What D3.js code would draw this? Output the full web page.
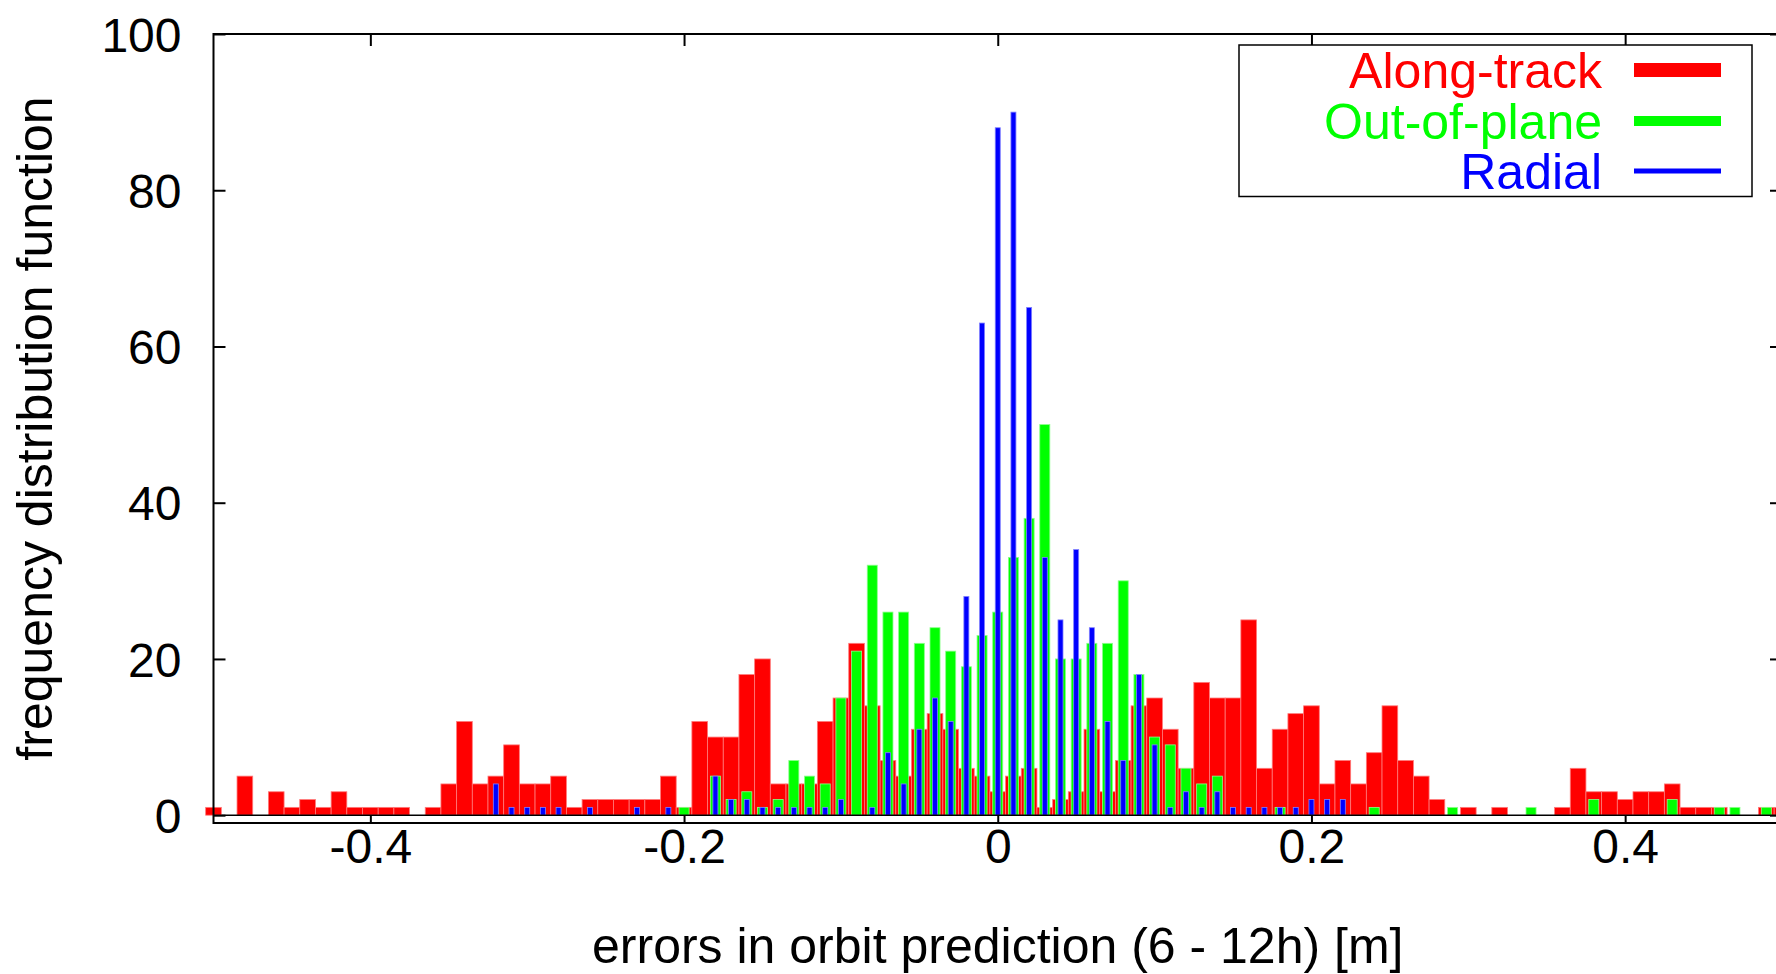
<!DOCTYPE html>
<html><head><meta charset="utf-8">
<script src="https://cdn.jsdelivr.net/npm/d3@7"></script>
<style>html,body{margin:0;padding:0;background:#fff;overflow:hidden}</style>
</head><body><svg id="chart" width="1776" height="974"></svg>
<script>
// ---------- data (bin centres in m, counts) ----------
const alongX = [-0.50,-0.48,-0.46,-0.45,-0.44,-0.43,-0.42,-0.41,-0.40,-0.39,-0.38,-0.36,-0.35,-0.34,-0.33,-0.32,-0.31,-0.30,-0.29,-0.28,-0.27,-0.26,-0.25,-0.24,-0.23,-0.22,-0.21,-0.20,-0.19,-0.18,-0.17,-0.16,-0.15,-0.14,-0.13,-0.12,-0.11,-0.10,-0.09,-0.08,-0.07,-0.06,-0.05,-0.04,-0.03,-0.02,-0.01,0.00,0.01,0.02,0.03,0.04,0.05,0.06,0.07,0.08,0.09,0.10,0.11,0.12,0.13,0.14,0.15,0.16,0.17,0.18,0.19,0.20,0.21,0.22,0.23,0.24,0.25,0.26,0.27,0.28,0.30,0.32,0.36,0.37,0.38,0.39,0.40,0.41,0.42,0.43,0.44,0.45,0.46,0.49,0.50];
const alongN = [1,5,3,1,2,1,3,1,1,1,1,1,4,12,4,5,9,4,4,5,1,2,2,2,2,2,5,1,12,10,10,18,20,4,4,4,12,15,22,14,7,5,11,13,11,6,5,3,5,6,1,2,3,11,3,7,14,15,11,6,17,15,15,25,6,11,13,14,4,7,4,8,14,7,5,2,1,1,1,6,3,3,2,3,3,4,1,1,1,1,1];

const outX = [-0.20,-0.18,-0.17,-0.16,-0.15,-0.14,-0.13,-0.12,-0.11,-0.10,-0.09,-0.08,-0.07,-0.06,-0.05,-0.04,-0.03,-0.02,-0.01,0.00,0.01,0.02,0.03,0.04,0.05,0.06,0.07,0.08,0.09,0.10,0.11,0.12,0.13,0.14,0.18,0.24,0.29,0.34,0.38,0.43,0.46,0.47,0.49];
const outN = [1,5,2,3,1,2,7,5,4,15,21,32,26,26,22,24,21,19,23,26,33,38,50,20,20,22,22,30,18,10,9,6,4,5,1,1,1,1,2,2,1,1,1];

const radX = [-0.32,-0.31,-0.30,-0.29,-0.28,-0.26,-0.23,-0.21,-0.18,-0.17,-0.16,-0.15,-0.14,-0.13,-0.12,-0.11,-0.10,-0.08,-0.07,-0.06,-0.05,-0.04,-0.03,-0.02,-0.01,0.00,0.01,0.02,0.03,0.04,0.05,0.06,0.07,0.08,0.09,0.10,0.11,0.12,0.13,0.14,0.15,0.16,0.17,0.18,0.19,0.20,0.21,0.22];
const radN = [4,1,1,1,1,1,1,1,5,2,2,1,1,1,1,1,2,1,8,4,11,15,12,28,63,88,90,65,33,25,34,24,12,7,18,9,1,3,1,3,1,1,1,1,1,2,2,2];

const seriesNames = ["Along-track", "Out-of-plane", "Radial"];
const xTicks = [-0.4, -0.2, 0, 0.2, 0.4];
const yTicks = [0, 20, 40, 60, 80, 100];
const xTitle = "errors in orbit prediction (6 - 12h) [m]";
const yTitle = "frequency distribution function";

// ---------- styles ----------
const FONT = "'Liberation Sans', Arial, Helvetica, sans-serif";
const styles = [
  {color: "#ff0000", edge: "#ff7a7a", box: 0.0100, lw: 14},
  {color: "#00ff00", edge: "#8aff8a", box: 0.0064, lw: 10},
  {color: "#0000ff", edge: "#8080ff", box: 0.0032, lw: 5}
];
const series = [
  {name: seriesNames[0], xs: alongX, ns: alongN},
  {name: seriesNames[1], xs: outX, ns: outN},
  {name: seriesNames[2], xs: radX, ns: radN}
];

const svg = d3.select("#chart");
const L = 213.5, R = 1782, T = 34, B = 823;
const x = d3.scaleLinear().domain([-0.5, 0.5]).range([L, R]);
const y = d3.scaleLinear().domain([-1, 100]).range([B, T]);

// axes (ticks inward, drawn below bars)
const fmt = d => d === 0 ? "0" : String(d);
const gx = svg.append("g").attr("transform", `translate(0,${B})`)
  .call(d3.axisBottom(x).tickValues(xTicks).tickSize(-12).tickFormat(fmt));
gx.select(".domain").remove();
gx.selectAll("line").attr("stroke", "#000").attr("stroke-width", 2);
gx.selectAll("text").attr("y", 40).attr("dy", null)
  .style("font-family", FONT).style("font-size", "48px").attr("fill", "#000");

const gxt = svg.append("g").attr("transform", `translate(0,${T})`)
  .call(d3.axisTop(x).tickValues(xTicks).tickSize(-12).tickFormat(""));
gxt.select(".domain").remove();
gxt.selectAll("line").attr("stroke", "#000").attr("stroke-width", 2);

const gy = svg.append("g").attr("transform", `translate(${L},0)`)
  .call(d3.axisLeft(y).tickValues(yTicks).tickSize(-12).tickPadding(32));
gy.select(".domain").remove();
gy.selectAll("line").attr("stroke", "#000").attr("stroke-width", 2);
gy.selectAll("text").attr("dy", "0.36em")
  .style("font-family", FONT).style("font-size", "48px").attr("fill", "#000");

const gyr = svg.append("g").attr("transform", `translate(${R},0)`)
  .call(d3.axisRight(y).tickValues(yTicks).tickSize(-12).tickFormat(""));
gyr.select(".domain").remove();
gyr.selectAll("line").attr("stroke", "#000").attr("stroke-width", 2);

// bars
series.forEach((s, i) => {
  const st = styles[i];
  const data = s.xs.map((v, j) => ({c: v, n: s.ns[j]}));
  svg.append("g").selectAll("rect").data(data).join("rect")
    .attr("x", d => x(d.c - st.box / 2))
    .attr("width", d => x(d.c + st.box / 2) - x(d.c - st.box / 2))
    .attr("y", d => y(d.n))
    .attr("height", d => y(0) - y(d.n))
    .attr("fill", st.color)
    .attr("stroke", st.edge)
    .attr("stroke-width", 0.8);
});

// zero line and border
svg.append("line").attr("x1", L).attr("x2", R).attr("y1", y(0)).attr("y2", y(0))
  .attr("stroke", "#000").attr("stroke-width", 1.6);
svg.append("rect").attr("x", L).attr("y", T).attr("width", R - L).attr("height", B - T)
  .attr("fill", "none").attr("stroke", "#000").attr("stroke-width", 2);

// axis titles
svg.append("text").attr("x", x(0)).attr("y", 963).attr("text-anchor", "middle")
  .style("font-family", FONT).style("font-size", "50px").text(xTitle);
svg.append("text").attr("transform", `translate(52,${(T + B) / 2}) rotate(-90)`)
  .attr("text-anchor", "middle")
  .style("font-family", FONT).style("font-size", "50px").text(yTitle);

// legend
const lg = svg.append("g");
lg.append("rect").attr("x", 1239).attr("y", 45).attr("width", 513).attr("height", 151.5)
  .attr("fill", "#fff").attr("stroke", "#000").attr("stroke-width", 1.5);
const rows = [70, 121, 171];
series.forEach((s, i) => {
  const st = styles[i];
  lg.append("text").attr("x", 1602).attr("y", rows[i] + 18).attr("text-anchor", "end")
    .style("font-family", FONT).style("font-size", "50px").attr("fill", st.color).text(s.name);
  lg.append("line").attr("x1", 1634).attr("x2", 1721).attr("y1", rows[i]).attr("y2", rows[i])
    .attr("stroke", st.color).attr("stroke-width", st.lw);
});
</script></body></html>
